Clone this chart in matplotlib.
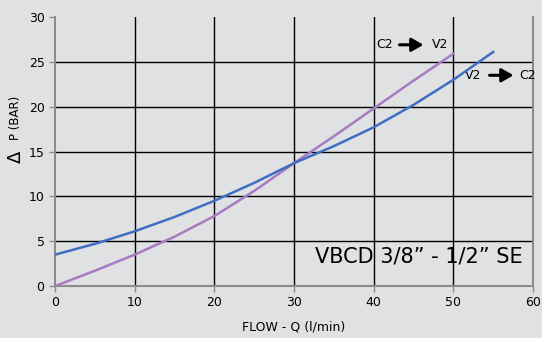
import numpy as np
import matplotlib.pyplot as plt

# flow (l/min) and pressure drop (bar)
flow_v2_c2 = [0, 5, 10, 15, 20, 25, 30, 35, 40, 45, 50, 55]
dp_v2_c2 = [3.5, 4.7, 6.1, 7.7, 9.5, 11.5, 13.7, 15.6, 17.7, 20.2, 23.0, 26.1]

flow_c2_v2 = [0, 5, 10, 15, 20, 25, 30, 35, 40, 45, 50]
dp_c2_v2 = [0, 1.7, 3.5, 5.5, 7.8, 10.6, 13.7, 16.7, 19.8, 22.9, 25.9]

x_ticks = [0, 10, 20, 30, 40, 50, 60]
y_ticks = [0, 5, 10, 15, 20, 25, 30]

bg = '#e0e1e3'
edge = '#8c8c8c'

fig = plt.figure(figsize=(5.42, 3.38), dpi=100, facecolor=bg)
ax = fig.add_axes([0.1015, 0.1538, 0.8819, 0.7959], facecolor=bg)

# grid lines (black inside, gray frame)
for xv in x_ticks[1:-1]:
    ax.axvline(xv, color='black', lw=1.0, zorder=1)
for yv in y_ticks[1:-1]:
    ax.axhline(yv, color='black', lw=1.0, zorder=1)

ax.plot(flow_c2_v2, dp_c2_v2, color='#a57bc4', lw=1.8, zorder=3)
ax.plot(flow_v2_c2, dp_v2_c2, color='#3f6fc0', lw=1.8, zorder=4)

ax.set_xlim(0, 60)
ax.set_ylim(0, 30)
ax.set_xticks(x_ticks)
ax.set_yticks(y_ticks)
ax.tick_params(colors=edge, labelcolor='black', labelsize=9, length=4, width=1)

for side in ['left', 'bottom', 'right']:
    ax.spines[side].set_color(edge)
    ax.spines[side].set_linewidth(1.5)
ax.spines['top'].set_visible(False)

ax.set_xlabel('FLOW - Q (l/min)', fontsize=9, labelpad=8)

# y label: big delta, smaller text, placed a bit above centre
fig.text(16 / 542, 1 - 157 / 338, 'Δ', fontsize=13, rotation=90, ha='center', va='center')
fig.text(16 / 542, 1 - 118 / 338, 'P (BAR)', fontsize=8.5, rotation=90, ha='center', va='center')

# direction labels
ax.text(40.3, 26.9, 'C2', fontsize=9, va='center', ha='left')
ax.annotate('', xy=(46.6, 26.9), xytext=(42.9, 26.9),
            arrowprops=dict(arrowstyle='-|>,head_length=0.7,head_width=0.4',
                            color='black', lw=2.2))
ax.text(47.3, 26.9, 'V2', fontsize=9, va='center', ha='left')

ax.text(51.5, 23.5, 'V2', fontsize=9, va='center', ha='left')
ax.annotate('', xy=(57.9, 23.5), xytext=(54.2, 23.5),
            arrowprops=dict(arrowstyle='-|>,head_length=0.7,head_width=0.4',
                            color='black', lw=2.2))
ax.text(58.3, 23.5, 'C2', fontsize=9, va='center', ha='left')

ax.text(45.7, 3.3, 'VBCD 3/8\u201d - 1/2\u201d SE', fontsize=15, ha='center', va='center')

fig.savefig('out.png', dpi=100, facecolor=bg)
